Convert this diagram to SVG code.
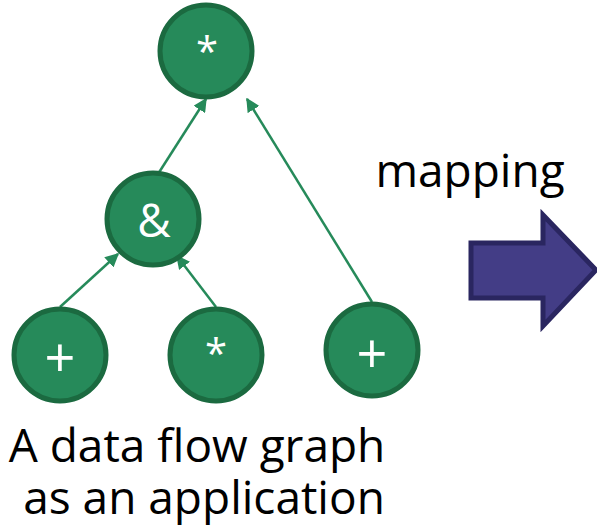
<svg xmlns="http://www.w3.org/2000/svg" width="597" height="528" viewBox="0 0 597 528">
  <defs>
    <style>
      .node circle { fill: #268a5a; stroke: #1b6a40; stroke-width: 5; }
      .node text { fill: #ffffff; font-family: "Open Sans", "Noto Sans", sans-serif; text-anchor: middle; }
      .edge { stroke: #268a5a; stroke-width: 2.5; fill: none; marker-end: url(#head); }
      .label { fill: #000000; font-family: "Open Sans", "Noto Sans", sans-serif; font-size: 46px; text-anchor: middle; }
    </style>
    <marker id="head" viewBox="0 0 10 10" refX="9" refY="5" markerWidth="5.5" markerHeight="5.5" orient="auto" markerUnits="strokeWidth">
      <path d="M0,0 L10,5 L0,10 Z" fill="#268a5a"/>
    </marker>
  </defs>

  <!-- connectors -->
  <g id="edges">
    <line class="edge" x1="158" y1="174" x2="206" y2="99"/>
    <line class="edge" x1="372" y1="302" x2="247" y2="99"/>
    <line class="edge" x1="60" y1="307" x2="118" y2="254"/>
    <line class="edge" x1="216" y1="307" x2="177" y2="256"/>
  </g>

  <!-- operator nodes -->
  <g id="n-mul-top" class="node">
    <circle cx="206" cy="51" r="46"/>
    <text x="207" y="66" font-size="40">*</text>
  </g>
  <g id="n-and" class="node">
    <circle cx="153" cy="219" r="46"/>
    <text x="154" y="237" font-size="46">&amp;</text>
  </g>
  <g id="n-add-left" class="node">
    <circle cx="60" cy="355" r="46"/>
    <text x="60" y="377" font-size="54">+</text>
  </g>
  <g id="n-mul-mid" class="node">
    <circle cx="216" cy="355" r="46"/>
    <text x="216" y="368" font-size="40">*</text>
  </g>
  <g id="n-add-right" class="node">
    <circle cx="372" cy="350" r="46"/>
    <text x="372" y="373" font-size="54">+</text>
  </g>

  <!-- mapping arrow -->
  <g id="mapping">
    <text class="label" x="470" y="187">mapping</text>
    <path d="M471,243 L543,243 L543,215 L596,270 L543,326 L543,298 L471,298 Z" fill="#433d86" stroke="#2a2660" stroke-width="5" stroke-linejoin="miter"/>
  </g>

  <!-- caption -->
  <g id="caption">
    <text class="label" x="197" y="462">A data flow graph</text>
    <text class="label" x="204" y="514">as an application</text>
  </g>
</svg>
